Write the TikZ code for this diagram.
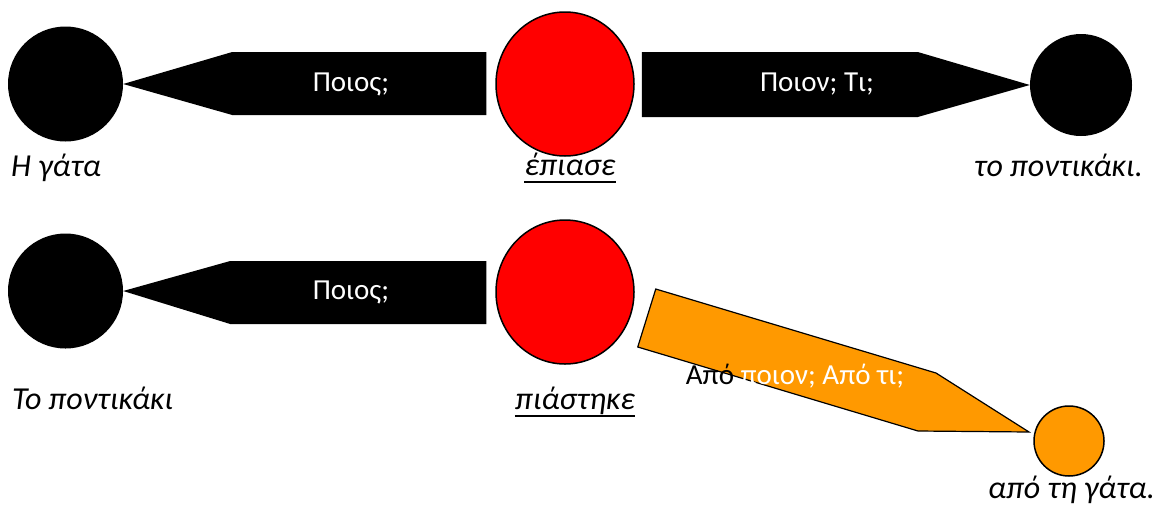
\documentclass[tikz,border=0pt]{standalone}
\usepackage{fontspec}
\setmainfont{Carlito}
\usepackage{tikz}
\usetikzlibrary{calc,shapes.geometric}
\definecolor{agentorange}{HTML}{FF9900}

\begin{document}
\begin{tikzpicture}[
    x=1pt, y=-1pt,
    dot/.style={circle, fill=black, inner sep=0pt, minimum size=115pt},
    verb/.style={ellipse, draw=black, line width=1.5pt, fill=red, inner sep=0pt, minimum width=138pt, minimum height=144pt},
    agent/.style={circle, draw=black, line width=1.5pt, fill=agentorange, inner sep=0pt, minimum size=70pt},
    blockarrow/.style={fill=black},
    agentarrow/.style={draw=black, line width=1.2pt, fill=agentorange},
    question/.style={text=white, font=\fontsize{29}{34}\selectfont, inner sep=0pt, anchor=base},
    word/.style={font=\fontsize{32}{38}\selectfont\itshape, inner sep=0pt},
    uline/.style={line width=2pt}
]
\useasboundingbox (0,0) rectangle (1158,504);

% active sentence
\node[dot] (cat1) at (65.5,84) {};
\node[verb] (caught) at (565,84) {};
\node[dot, minimum size=102pt] (mouse1) at (1081,85) {};

\fill[blockarrow] (cat1.east) -- ($(cat1.east)+(109,-32)$) -- ($(caught.west)+(-9,-32)$)
    -- ($(caught.west)+(-9,31)$) -- ($(cat1.east)+(109,31)$) -- cycle;
\fill[blockarrow] (mouse1.west) -- ($(mouse1.west)+(-112,-33)$) -- ($(caught.east)+(7,-32)$)
    -- ($(caught.east)+(7,33)$) -- ($(mouse1.west)+(-112,32)$) -- cycle;

\node[question] (who1) at (351,91) {Ποιος;};
\node[question] (whom) at (817,91) {Ποιον; Τι;};

\node[word, anchor=base west] (subj1) at (11,176) {Η γάτα};
\node[word, anchor=base] (verb1) at (570,175) {έπιασε};
\node[word, anchor=base east] (obj1) at (1143,176) {το ποντικάκι.};
\draw[uline] ([yshift=-7pt]verb1.base west) -- ([yshift=-7pt]verb1.base east);

% passive sentence
\node[dot] (mouse2) at (65.5,291) {};
\node[verb] (wascaught) at (565,292) {};
\node[agent] (cat2) at (1069,441) {};

\fill[blockarrow] (mouse2.east) -- ($(mouse2.east)+(107,-30)$) -- ($(wascaught.west)+(-9,-31)$)
    -- ($(wascaught.west)+(-9,32)$) -- ($(mouse2.east)+(107,33)$) -- cycle;
\coordinate (tip) at ($(cat2.center)+(-40,-9)$);
\draw[agentarrow] (tip) -- ($(tip)+(-93,-59)$) -- ($(wascaught.east)+(21,-3)$)
    -- ($(wascaught.east)+(3,55)$) -- ($(tip)+(-111,-1)$) -- cycle;

\node[question] (who2) at (351,299) {Ποιος;};
\node[question] (bywhom) at (795,384) {{\color{black}Από} ποιον; Από τι;};

\node[word, anchor=base west] (subj2) at (12,409) {Το ποντικάκι};
\node[word, anchor=base] (verb2) at (575,409) {πιάστηκε};
\node[word, anchor=base east] (obj2) at (1155,498) {από τη γάτα.};
\draw[uline] ([yshift=-7pt]verb2.base west) -- ([yshift=-7pt]verb2.base east);

\end{tikzpicture}
\end{document}
